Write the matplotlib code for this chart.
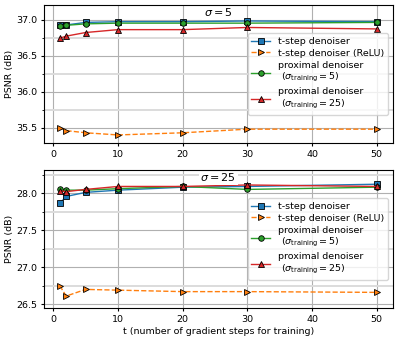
import matplotlib
matplotlib.use("Agg")
import matplotlib.pyplot as plt
from matplotlib.ticker import MultipleLocator

plt.rcParams["font.size"] = 6.8
plt.rcParams["xtick.major.size"] = 2.5
plt.rcParams["ytick.major.size"] = 2.5
plt.rcParams["ytick.minor.size"] = 1.6
plt.rcParams["xtick.major.pad"] = 2.4
plt.rcParams["ytick.major.pad"] = 2.4
plt.rcParams["axes.linewidth"] = 0.8

t = [1, 2, 5, 10, 20, 30, 50]

# sigma = 5
s5_tstep = [36.92, 36.925, 36.96, 36.97, 36.97, 36.98, 36.97]
s5_relu = [35.50, 35.46, 35.43, 35.40, 35.43, 35.48, 35.48]
s5_prox5 = [36.91, 36.92, 36.94, 36.95, 36.95, 36.95, 36.96]
s5_prox25 = [36.74, 36.77, 36.82, 36.86, 36.86, 36.89, 36.87]

# sigma = 25
s25_tstep = [27.86, 27.955, 28.01, 28.04, 28.08, 28.09, 28.12]
s25_relu = [26.75, 26.61, 26.70, 26.69, 26.67, 26.67, 26.66]
s25_prox5 = [28.05, 28.04, 28.04, 28.06, 28.09, 28.05, 28.08]
s25_prox25 = [28.03, 28.02, 28.05, 28.09, 28.09, 28.11, 28.09]

labels = [
    "t-step denoiser",
    "t-step denoiser (ReLU)",
    "proximal denoiser\n ($\\sigma_{\\mathrm{training}} = 5$)",
    "proximal denoiser\n ($\\sigma_{\\mathrm{training}} = 25$)",
]

panels = [
    ("$\\sigma = 5$", [s5_tstep, s5_relu, s5_prox5, s5_prox25], (35.29, 37.2)),
    ("$\\sigma = 25$", [s25_tstep, s25_relu, s25_prox5, s25_prox25], (26.45, 28.31)),
]

styles = [
    dict(color="tab:blue", marker="s", ls="-"),
    dict(color="tab:orange", marker=">", ls="--"),
    dict(color="tab:green", marker="o", ls="-"),
    dict(color="tab:red", marker="^", ls="-"),
]

fig = plt.figure(figsize=(3.99, 3.41), dpi=100)
ax1 = fig.add_axes([0.110, 0.581, 0.874, 0.404])
ax2 = fig.add_axes([0.110, 0.097, 0.874, 0.404])

for ax, (title, series, ylim) in zip([ax1, ax2], panels):
    for y, st, lab in zip(series, styles, labels):
        ax.plot(t, y, label=lab, lw=1, ms=4, mec="black", mew=0.6, **st)
    ax.set_ylim(*ylim)
    ax.yaxis.set_major_locator(MultipleLocator(0.5))
    ax.yaxis.set_minor_locator(MultipleLocator(0.25))
    ax.grid(True, which="major", color="#b0b0b0", lw=0.8)
    ax.grid(True, which="minor", axis="y", color="#dcdcdc", lw=1.4)
    ax.set_axisbelow(True)
    ax.set_ylabel("PSNR (dB)", labelpad=1.5)
    ax.text(0.5, 0.95, title, transform=ax.transAxes, ha="center", va="center",
            fontsize=8, bbox=dict(fc="white", ec="none", pad=1.2), zorder=2.5)
    ax.legend(loc="center right", fontsize=6.8, handlelength=2,
              labelspacing=0.3, borderpad=0.4, framealpha=0.8)

ax2.set_xlabel("t (number of gradient steps for training)", labelpad=2)

plt.savefig("out.png")
